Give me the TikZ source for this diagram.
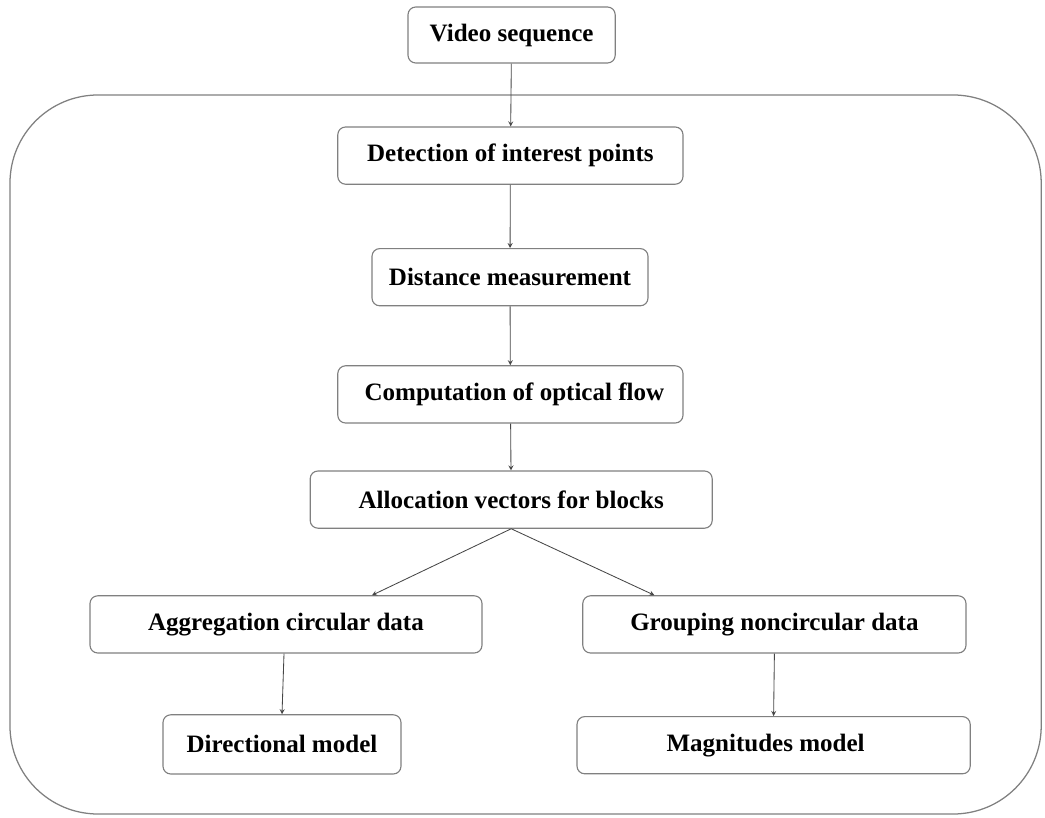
\documentclass[tikz,border=0pt]{standalone}
\usepackage{fontspec}
\setmainfont{Liberation Serif}
\usetikzlibrary{positioning}
\definecolor{Edge}{RGB}{128,128,128}
\definecolor{Wire}{RGB}{70,70,70}

\begin{document}
\begin{tikzpicture}[
    x=1cm,
    y=1cm,
    every node/.style={align=center},
    stepbox/.style={
      draw=Edge,
      rounded corners=5.5pt,
      fill=white,
      minimum height=1.43cm,
      line width=0.8pt,
      inner sep=0pt,
      font=\fontsize{17.8}{20}\selectfont\bfseries
    },
    frame/.style={draw=Edge, line width=0.9pt, rounded corners=2.2cm},
    flow/.style={->, line width=0.6pt, color=Wire, >=stealth}
  ]
    \useasboundingbox (0,0) rectangle (26.125,-20.45);

    % Outer frame
    \draw[frame] (0.25,-2.375) rectangle (26.03,-20.35);

    % Main column
    \node[stepbox, minimum width=5.18cm, minimum height=1.40cm] (video) at (12.79,-0.875) {Video sequence};
    \node[stepbox, minimum width=8.63cm] (detect) at (12.76,-3.89) {Detection of interest points};
    \node[stepbox, minimum width=6.90cm] (dist) at (12.75,-6.93) {Distance measurement};
    \node[stepbox, minimum width=8.63cm] (comp) at (12.76,-9.86) {\hspace{0.2cm}Computation of optical flow};
    \node[stepbox, minimum width=10.05cm] (alloc) at (12.78,-12.49) {Allocation vectors for blocks};

    % Two branches
    \node[stepbox, minimum width=9.80cm] (agg) at (7.15,-15.61) {Aggregation circular data};
    \node[stepbox, minimum width=9.58cm] (group) at (19.36,-15.61) {Grouping noncircular data};
    \node[stepbox, minimum width=5.95cm, minimum height=1.48cm] (dir) at (7.05,-18.61) {Directional model};
    \node[stepbox, minimum width=9.83cm] (mag) at (19.34,-18.63) {Magnitudes model\hspace{0.4cm}};

    % Main flow arrows
    \draw[flow] (video) -- (detect);
    \draw[flow] (detect) -- (dist);
    \draw[flow] (dist) -- (comp);
    \draw[flow] (comp) -- (alloc);

    % Split
    \draw[flow] (alloc.south) -- ([xshift=2.15cm]agg.north);
    \draw[flow] (alloc.south) -- ([xshift=-3.0cm]group.north);
    \draw[flow] ([xshift=-0.05cm]agg.south) -- (dir.north);
    \draw[flow] (group.south) -- (mag.north);
  \end{tikzpicture}
\end{document}
